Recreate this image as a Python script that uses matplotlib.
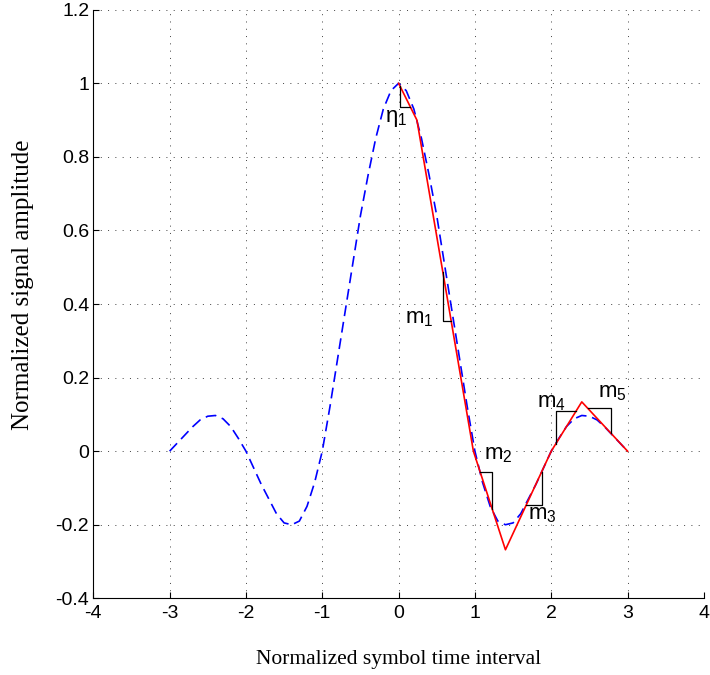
import numpy as np
import matplotlib
matplotlib.use('Agg')
from matplotlib import pyplot as plt

# pulse samples, t = -3 .. 3 step 0.1
t = np.round(np.arange(-3.0, 3.01, 0.1), 2)
pulse = [0.0, 0.022, 0.044, 0.066, 0.085, 0.095, 0.097, 0.088, 0.067, 0.035,
         0.0, -0.045, -0.09, -0.13, -0.17, -0.195, -0.20, -0.19, -0.15, -0.085,
         0.0, 0.12, 0.25, 0.38, 0.51, 0.64, 0.75, 0.85, 0.93, 0.98,
         1.0,
         0.98, 0.93, 0.85, 0.75, 0.64, 0.51, 0.38, 0.25, 0.12, 0.0,
         -0.085, -0.15, -0.19, -0.20, -0.195, -0.17, -0.13, -0.09, -0.045, 0.0,
         0.035, 0.067, 0.088, 0.097, 0.095, 0.085, 0.066, 0.044, 0.022, 0.0]

# piecewise linear approximation (red)
approx_t = [0.0, 0.24, 0.98, 1.40, 2.0, 2.4, 3.0]
approx_v = [1.0, 0.90, 0.0, -0.268, 0.0, 0.134, 0.0]

# slope markers: name, start t, end t, corner side
slope_names = [r'$\eta_{1}$', r'$\mathrm{m}_{1}$', r'$\mathrm{m}_{2}$',
               r'$\mathrm{m}_{3}$', r'$\mathrm{m}_{4}$', r'$\mathrm{m}_{5}$']
slope_ta = [0.018, 0.579, 1.07, 1.674, 2.058, 2.48]
slope_tb = [0.153, 0.69, 1.228, 1.874, 2.329, 2.78]
slope_corner = ['a', 'a', 'b', 'b', 'a', 'b']
label_pos = [(-0.03, 0.895), (0.27, 0.346), (1.313, -0.022),
             (1.88, -0.185), (2.0, 0.118), (2.807, 0.146)]

plt.rcParams['mathtext.fontset'] = 'custom'
plt.rcParams['mathtext.rm'] = 'Liberation Sans'
plt.rcParams['mathtext.it'] = 'Liberation Sans'
plt.rcParams['axes.unicode_minus'] = False

fig = plt.figure(figsize=(7.1, 6.75), dpi=100)
ax = fig.add_axes([0.1314, 0.1136, 0.860, 0.872])

ax.plot(t, pulse, color='b', linewidth=1.2, dashes=(6.5, 3.5))
ax.plot(approx_t, approx_v, color='r', linewidth=1.2)

for name, ta, tb, c, (lx, ly) in zip(slope_names, slope_ta, slope_tb,
                                       slope_corner, label_pos):
    ya = np.interp(ta, approx_t, approx_v)
    yb = np.interp(tb, approx_t, approx_v)
    if c == 'a':
        corner = (ta, yb)
    else:
        corner = (tb, ya)
    ax.plot([ta, corner[0], tb], [ya, corner[1], yb], color='k', linewidth=0.9)
    ax.text(lx, ly, name, ha='center', va='baseline', fontsize=16)

ax.set_xlim(-4, 4)
ax.set_ylim(-0.4, 1.2)
ax.set_xticks(np.arange(-4, 5, 1))
ax.set_yticks(np.round(np.arange(-0.4, 1.21, 0.2), 1))
ax.set_yticklabels(['-0.4', '-0.2', '0', '0.2', '0.4', '0.6', '0.8', '1', '1.2'])
ax.grid(True, linestyle=(0, (1, 6.5)), linewidth=0.7, color='0.25')
ax.set_axisbelow(True)
ax.spines['top'].set_visible(False)
ax.spines['right'].set_visible(False)
ax.tick_params(direction='in', length=4, width=0.8, labelsize=14)
ax.tick_params(axis='x', pad=5)
ax.tick_params(axis='y', pad=3)
for lbl in ax.get_xticklabels() + ax.get_yticklabels():
    lbl.set_fontfamily('Liberation Sans')

ax.set_xlabel('Normalized symbol time interval', fontfamily='Liberation Serif',
              fontsize=15.5, labelpad=20)
ax.set_ylabel('Normalized signal amplitude', fontfamily='Liberation Serif',
              fontsize=18)
ax.yaxis.set_label_coords(-0.097, 0.532)

fig.savefig('out.png', dpi=100)
